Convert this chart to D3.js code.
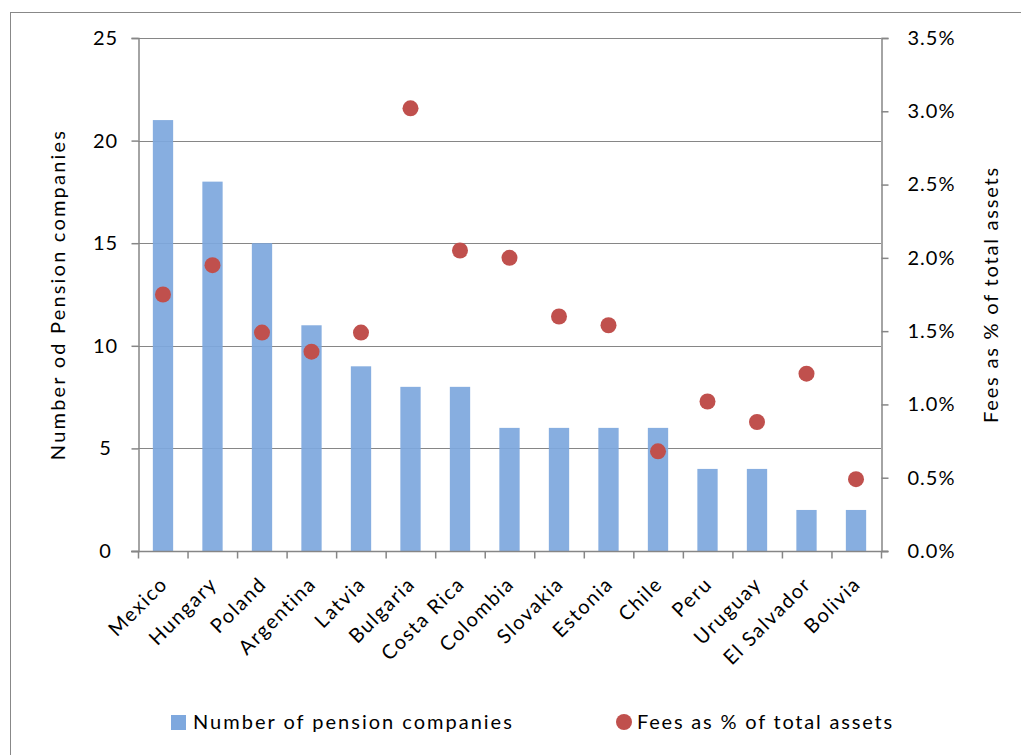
<!DOCTYPE html>
<html>
<head>
<meta charset="utf-8">
<script src="https://cdn.jsdelivr.net/npm/d3@7"></script>
<style>
  html, body { margin: 0; padding: 0; background: #fff; }
  svg text { font-family: Lato, "Open Sans", sans-serif; fill: #000; }
</style>
</head>
<body>
<svg id="chart" width="1021" height="755"></svg>
<script>
// Pension systems: number of companies and fees
const countries = ["Mexico", "Hungary", "Poland", "Argentina", "Latvia", "Bulgaria", "Costa Rica",
  "Colombia", "Slovakia", "Estonia", "Chile", "Peru", "Uruguay", "El Salvador", "Bolivia"];
const companies = [21, 18, 15, 11, 9, 8, 8, 6, 6, 6, 6, 4, 4, 2, 2];
const feesPct = [1.75, 1.95, 1.49, 1.36, 1.49, 3.02, 2.05, 2.0, 1.6, 1.54, 0.68, 1.02, 0.88, 1.21, 0.49];
const leftTicks = [0, 5, 10, 15, 20, 25];
const rightTicks = [0, 0.5, 1.0, 1.5, 2.0, 2.5, 3.0, 3.5];

const svg = d3.select("#chart");
const m = { left: 138, right: 881, top: 38, bottom: 551 };

// outer chart frame
svg.append("rect").attr("x", 10.5).attr("y", 12.5).attr("width", 1030).attr("height", 760)
  .attr("fill", "none").attr("stroke", "#888").attr("stroke-width", 1);

const x = d3.scaleBand().domain(countries).range([m.left, m.right]).paddingInner(0.59).paddingOuter(0.3);
const yL = d3.scaleLinear().domain([0, 25]).range([m.bottom, m.top]);
const yR = d3.scaleLinear().domain([0, 3.5]).range([m.bottom, m.top]);

// horizontal gridlines
svg.append("g").selectAll("line").data(leftTicks.filter(d => d > 0)).join("line")
  .attr("x1", m.left).attr("x2", m.right)
  .attr("y1", d => Math.round(yL(d)) + 0.5).attr("y2", d => Math.round(yL(d)) + 0.5)
  .attr("stroke", "#868686").attr("stroke-width", 1.2);

// bars
svg.append("g").selectAll("rect").data(countries).join("rect")
  .attr("x", d => x(d)).attr("width", x.bandwidth())
  .attr("y", (d, i) => yL(companies[i])).attr("height", (d, i) => yL(0) - yL(companies[i]))
  .attr("fill", "#7EA8DE").attr("fill-opacity", 0.93);

// left axis
const gL = svg.append("g").attr("transform", `translate(${m.left + 0.5},0)`)
  .call(d3.axisLeft(yL).tickValues(leftTicks).tickSize(7).tickPadding(22).tickFormat(d3.format("d")));
// right axis
const gR = svg.append("g").attr("transform", `translate(${m.right + 0.5},0)`)
  .call(d3.axisRight(yR).tickValues(rightTicks).tickSize(7).tickPadding(19).tickFormat(d => d.toFixed(1) + "%"));
// bottom axis with ticks at category boundaries
const gB = svg.append("g").attr("transform", `translate(0,${m.bottom + 0.5})`);
gB.append("line").attr("x1", m.left - 7).attr("x2", m.right + 7).attr("stroke", "#868686").attr("stroke-width", 1.5);
const step = (m.right - m.left) / countries.length;
gB.selectAll("line.tk").data(d3.range(countries.length + 1)).join("line").attr("class", "tk")
  .attr("x1", i => m.left + i * step + 0.5).attr("x2", i => m.left + i * step + 0.5)
  .attr("y1", 0).attr("y2", 7).attr("stroke", "#868686").attr("stroke-width", 1.5);

[gL, gR].forEach(g => {
  g.select(".domain").attr("stroke", "#868686").attr("stroke-width", 1.5);
  g.selectAll(".tick line").attr("stroke", "#868686").attr("stroke-width", 1.5);
  g.selectAll(".tick text").attr("font-size", 20).attr("letter-spacing", "1px")
    .attr("font-family", "Lato, sans-serif").attr("fill", "#000");
});
gL.selectAll(".tick text").attr("text-anchor", "middle").attr("dx", "-0.2em");

// category labels
gB.selectAll("text").data(countries).join("text")
  .attr("transform", d => `translate(${x(d) + x.bandwidth() / 2 - 4},24) rotate(-45)`)
  .attr("text-anchor", "end").attr("dy", "0.7em").attr("font-size", 20).attr("letter-spacing", "1.6px")
  .text(d => d);

// fee points
svg.append("g").selectAll("circle").data(countries).join("circle")
  .attr("cx", d => x(d) + x.bandwidth() / 2).attr("cy", (d, i) => yR(feesPct[i]))
  .attr("r", 8).attr("fill", "#C0504D");

// axis titles
svg.append("text").attr("transform", `translate(65,${(m.top + m.bottom) / 2}) rotate(-90)`)
  .attr("text-anchor", "middle").attr("font-size", 20).attr("letter-spacing", "2.2px")
  .text("Number od Pension companies");
svg.append("text").attr("transform", `translate(998,${(m.top + m.bottom) / 2}) rotate(-90)`)
  .attr("text-anchor", "middle").attr("font-size", 20).attr("letter-spacing", "1.8px")
  .text("Fees as % of total assets");

// legend
const lg = svg.append("g");
lg.append("rect").attr("x", 171).attr("y", 715).attr("width", 15).attr("height", 15).attr("fill", "#7EA8DE");
lg.append("text").attr("x", 193).attr("y", 729).attr("font-size", 20).attr("letter-spacing", "2px")
  .text("Number of pension companies");
lg.append("circle").attr("cx", 624).attr("cy", 722).attr("r", 8).attr("fill", "#C0504D");
lg.append("text").attr("x", 637).attr("y", 729).attr("font-size", 20).attr("letter-spacing", "1.8px")
  .text("Fees as % of total assets");
</script>
</body>
</html>
